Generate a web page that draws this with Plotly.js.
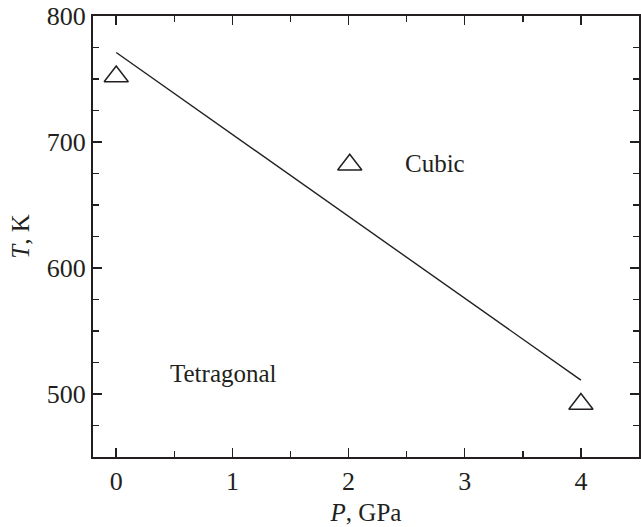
<!DOCTYPE html>
<html><head><meta charset="utf-8">
<script src="https://cdn.plot.ly/plotly-3.0.1.min.js"></script>
<style>body{margin:0;padding:0;background:#fff}#plot{width:641px;height:527px}</style>
</head><body><div id="plot"></div>
<script>
const lineP = [0, 4];
const lineT = [771, 511];
const triP = [0, 2.01, 4];
const triT = [752, 682, 492];
const regionLabels = ["Cubic", "Tetragonal"];
const regionP = [2.745, 0.92];
const regionT = [683, 516];

const font = {family: "'Liberation Serif', Tinos, 'Times New Roman', serif", color: "#231f20"};
const axisCommon = {
  showgrid: false, zeroline: false, showline: true, linecolor: "#231f20", linewidth: 2,
  mirror: "allticks", ticks: "inside", ticklen: 9, tickwidth: 1.5, tickcolor: "#231f20",
  tickfont: Object.assign({size: 26}, font),
  minor: {ticks: "inside", ticklen: 6, tickwidth: 1.5, tickcolor: "#231f20"}
};
const data = [
  {x: lineP, y: lineT, mode: "lines", line: {color: "#231f20", width: 1.4}, hoverinfo: "none"},
  {x: triP, y: triT, mode: "markers", marker: {symbol: "triangle-up-open", size: 21, color: "#231f20", line: {width: 1.5, color: "#231f20"}}, hoverinfo: "none"}
];
const layout = {
  width: 641, height: 527, showlegend: false,
  paper_bgcolor: "#fff", plot_bgcolor: "#fff",
  margin: {l: 93, r: 2, t: 16, b: 70},
  xaxis: Object.assign({}, axisCommon, {range: [-0.2, 4.5], tickvals: [0,1,2,3,4], minor: Object.assign({}, axisCommon.minor, {dtick: 0.5, tick0: 0}),
    title: {text: "<i>P</i>, GPa", font: Object.assign({size: 25}, font), standoff: 8}}),
  yaxis: Object.assign({}, axisCommon, {range: [450, 800], tickvals: [500,600,700,800], minor: Object.assign({}, axisCommon.minor, {dtick: 25, tick0: 0}),
    title: {text: "<i>T</i>, K", font: Object.assign({size: 25}, font), standoff: 10}}),
  annotations: regionLabels.map((t, i) => ({x: regionP[i], y: regionT[i], xref: "x", yref: "y", text: t, showarrow: false, font: Object.assign({size: 25}, font)}))
};
Plotly.newPlot("plot", data, layout, {staticPlot: true});
</script></body></html>
